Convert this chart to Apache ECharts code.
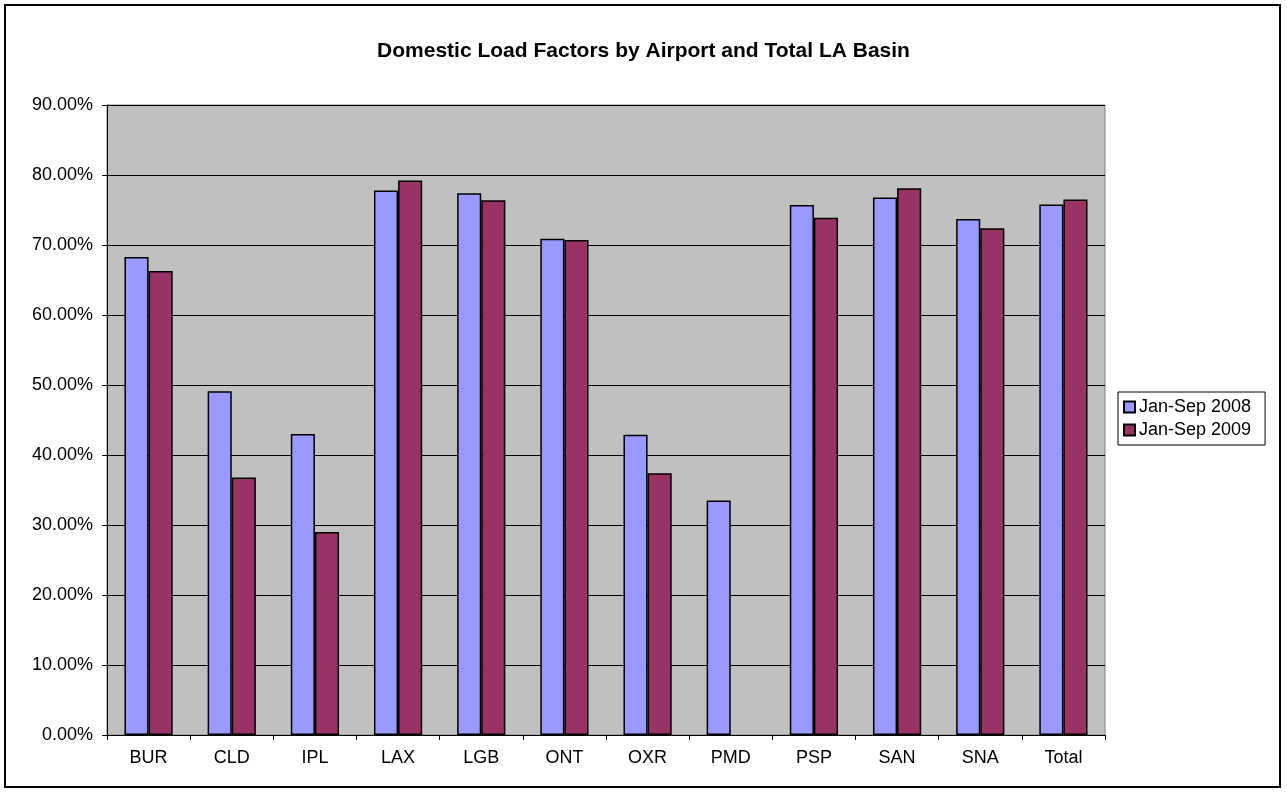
<!DOCTYPE html>
<html><head><meta charset="utf-8">
<script src="https://cdn.jsdelivr.net/npm/echarts@6/dist/echarts.min.js"></script>
<style>
html,body{margin:0;padding:0;background:#fff;}
#frame{position:absolute;left:4px;top:4px;width:1273px;height:780px;border:2px solid #000;}
#c{position:absolute;left:0;top:0;width:1287px;height:792px;}
</style></head>
<body>
<div id="frame"></div>
<div id="c"></div>
<script>
const categories = ['BUR','CLD','IPL','LAX','LGB','ONT','OXR','PMD','PSP','SAN','SNA','Total'];
const series2008 = [68.3, 49.1, 43.0, 77.8, 77.4, 70.9, 42.9, 33.5, 75.7, 76.8, 73.7, 75.8];
const series2009 = [66.3, 36.8, 29.0, 79.2, 76.4, 70.7, 37.4, null, 73.9, 78.1, 72.4, 76.5];
const seriesNames = ['Jan-Sep 2008', 'Jan-Sep 2009'];
const titleText = 'Domestic Load Factors by Airport and Total LA Basin';

const chart = echarts.init(document.getElementById('c'), null, {renderer:'canvas'});
const font = 'Liberation Sans, Arial, sans-serif';
chart.setOption({
  animation:false,
  title:{text:titleText,left:'center',top:36,textStyle:{fontFamily:font,fontSize:21,fontWeight:'bold',color:'#000'}},
  legend:{
    orient:'vertical', left:1118, top:392,
    data:seriesNames, icon:'rect', itemWidth:11, itemHeight:11, itemGap:5,
    borderColor:'#000', borderWidth:1, padding:[6,14,6,5],
    textStyle:{fontFamily:font,fontSize:18,color:'#000',padding:[0,0,0,-1]}
  },
  grid:{left:107,top:105,width:998,height:630,show:true,backgroundColor:'#c0c0c0',borderColor:'#808080',borderWidth:1},
  xAxis:{
    type:'category', data:categories,
    axisLine:{lineStyle:{color:'#000',width:1}},
    axisTick:{show:true,length:5,lineStyle:{color:'#000'}},
    axisLabel:{fontFamily:font,fontSize:18,color:'#000',margin:14}
  },
  yAxis:{
    type:'value', min:0, max:90, interval:10,
    axisLine:{show:true,lineStyle:{color:'#000',width:1}},
    axisTick:{show:true,length:5,lineStyle:{color:'#000'}},
    splitLine:{show:true,lineStyle:{color:'#000',width:1}},
    axisLabel:{fontFamily:font,fontSize:18,color:'#000',margin:14,formatter:v=>v.toFixed(2)+'%'}
  },
  series:[
    {name:seriesNames[0],type:'bar',data:series2008,barGap:'0%',barCategoryGap:'42%',
     itemStyle:{color:'#9999ff',borderColor:'#000',borderWidth:1.5}},
    {name:seriesNames[1],type:'bar',data:series2009,
     itemStyle:{color:'#993366',borderColor:'#000',borderWidth:1.5}}
  ]
});
</script>
</body></html>
